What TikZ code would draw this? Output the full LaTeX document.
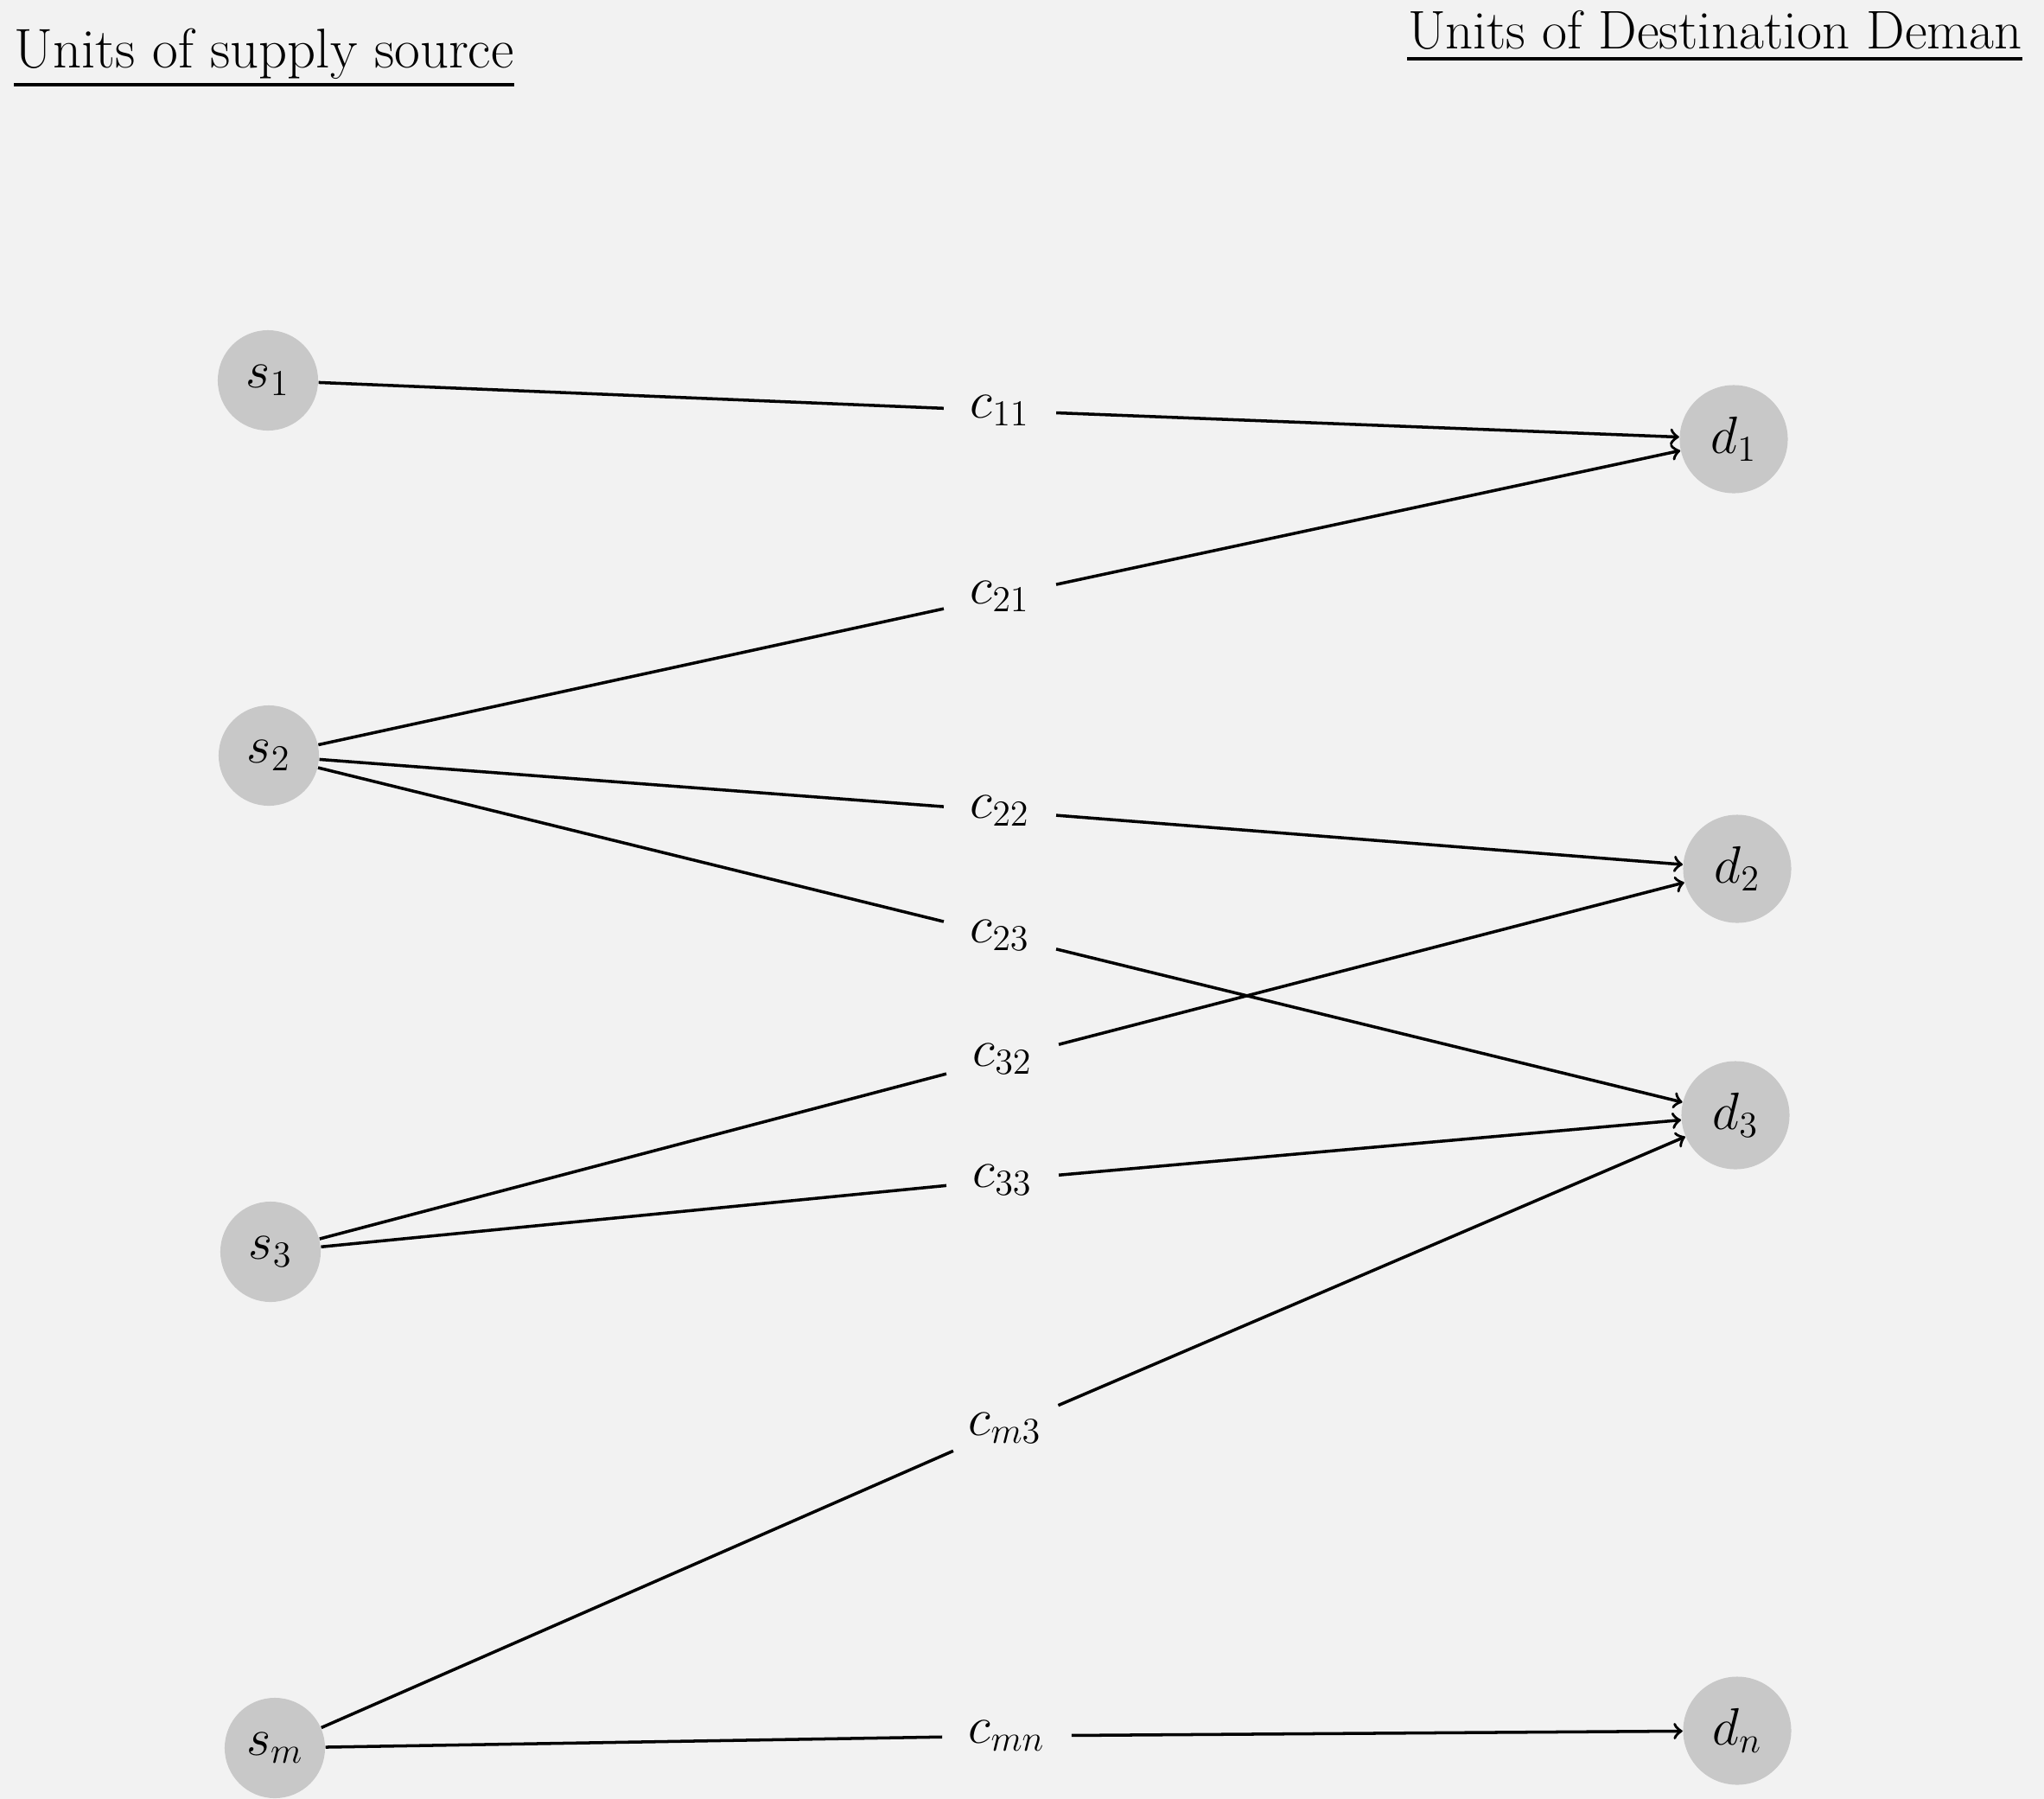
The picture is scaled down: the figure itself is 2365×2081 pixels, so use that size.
\documentclass[tikz,border=0pt]{standalone}
\usepackage{tikz}
\definecolor{bgcol}{RGB}{242,242,242}
\definecolor{nodegray}{RGB}{200,200,200}
\begin{document}
\begin{tikzpicture}[x=0.01cm,y=-0.01cm,
  every node/.style={font=\fontsize{17.5}{20}\selectfont},
  header/.style={inner sep=0pt,font=\fontsize{18.4}{22}\selectfont},
  src/.style={circle,fill=nodegray,minimum size=1.16cm,inner sep=0pt},
  dst/.style={circle,fill=nodegray,minimum size=1.25cm,inner sep=0pt},
  cost/.style={inner xsep=0.3cm,inner ysep=0.08cm},
  link/.style={line width=1pt},
  arr/.style={line width=1pt,->}]
\fill[bgcol] (0,0) rectangle (2365,2081);
\useasboundingbox (0,0) rectangle (2365,2081);
% headers
\node[header,anchor=base west] (hl) at (16,78) {Units of supply source};
\draw[line width=1.3pt] ([yshift=-0.2cm]hl.base west) -- ([yshift=-0.2cm]hl.base east);
\node[header,anchor=base east,font=\fontsize{17.9}{22}\selectfont] (hr) at (2340,56) {Units of Destination Deman};
\draw[line width=1.3pt] ([yshift=-0.12cm]hr.base west) -- ([yshift=-0.12cm]hr.base east);
% sources
\node[src] (s1) at (310,440) {$s_1$};
\node[src] (s2) at (311,874) {$s_2$};
\node[src] (s3) at (313,1448) {$s_3$};
\node[src] (sm) at (318,2022) {$s_m$};
% destinations
\node[dst] (d1) at (2006,508) {$d_1$};
\node[dst] (d2) at (2010,1005) {$d_2$};
\node[dst] (d3) at (2008,1290) {$d_3$};
\node[dst] (dn) at (2010,2002) {$d_n$};
% costs
\node[cost] (c11) at (1157,475) {$c_{11}$};
\node[cost] (c21) at (1157,690) {$c_{21}$};
\node[cost] (c22) at (1157,938) {$c_{22}$};
\node[cost] (c23) at (1157,1082) {$c_{23}$};
\node[cost] (c32) at (1160,1225) {$c_{32}$};
\node[cost] (c33) at (1160,1365) {$c_{33}$};
\node[cost] (cm3) at (1163,1652) {$c_{m3}$};
\node[cost] (cmn) at (1165,2008) {$c_{mn}$};
% links
\draw[link] (s1) -- (c11); \draw[arr] (c11) -- (d1);
\draw[link] (s2) -- (c21); \draw[arr] (c21) -- (d1);
\draw[link] (s2) -- (c22); \draw[arr] (c22) -- (d2);
\draw[link] (s2) -- (c23); \draw[arr] (c23) -- (d3);
\draw[link] (s3) -- (c32); \draw[arr] (c32) -- (d2);
\draw[link] (s3) -- (c33); \draw[arr] (c33) -- (d3);
\draw[link] (sm) -- (cm3); \draw[arr] (cm3) -- (d3);
\draw[link] (sm) -- (cmn); \draw[arr] (cmn) -- (dn);
\end{tikzpicture}
\end{document}
